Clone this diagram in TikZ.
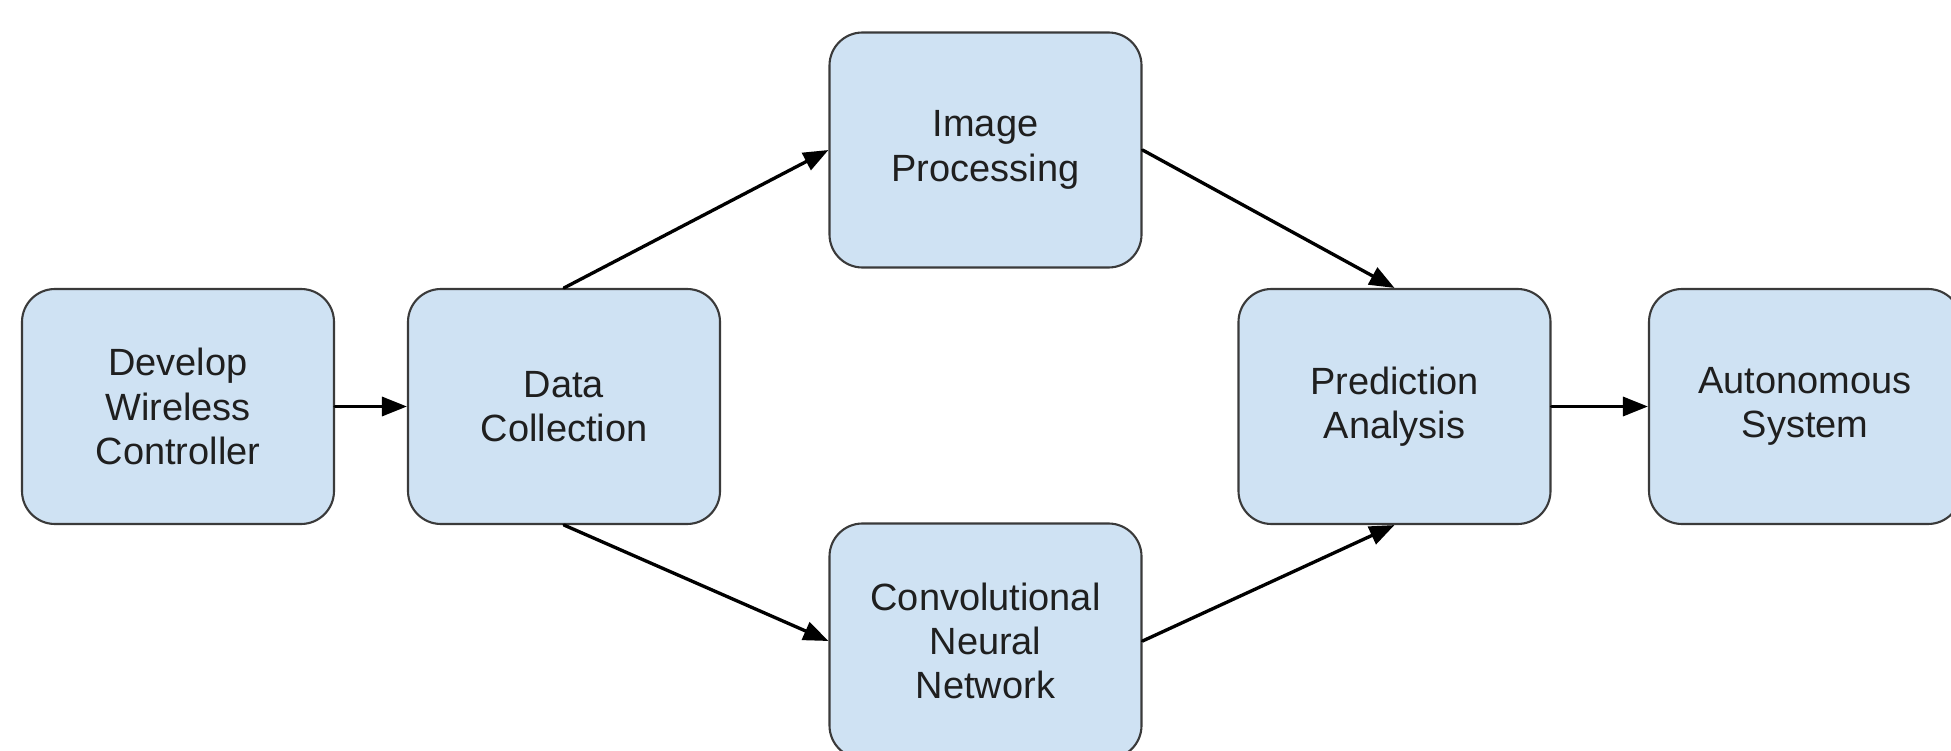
\documentclass[tikz,border=0pt]{standalone}
\usepackage{fontspec}
\setmainfont{Liberation Sans}
\usetikzlibrary{arrows.meta}
\definecolor{boxblue}{HTML}{CFE2F3}
\definecolor{boxline}{HTML}{3A3A3A}
\begin{document}
\begin{tikzpicture}[font=\fontsize{21.6}{25.2}\selectfont, line join=round, line cap=round, >={Triangle[length=0.5cm,width=0.38cm]},
block/.style={draw=boxline, line width=1.2pt, fill=boxblue, rounded corners=0.66cm, minimum width=6.24cm, minimum height=4.7cm, align=center, text=black!88, inner sep=0pt},
link/.style={->, line width=1.9pt}]
\def\xmax{39.02} \def\ymax{15}
\def\ymid{6.87}
\useasboundingbox (0,0) rectangle (\xmax,\ymax);
\clip (0,0) rectangle (\xmax,\ymax);
\node[block] (dev) at (3.56,\ymid) {Develop\\Wireless\\Controller};
\node[block] (data) at (11.28,\ymid) {Data\\Collection};
\node[block] (img) at (19.71,12.0) {Image\\Processing};
\node[block] (cnn) at (19.71,2.18) {Convolutional\\Neural\\Network};
\node[block] (pred) at (27.89,\ymid) {Prediction\\Analysis};
\node[block] (auto) at (36.1,\ymid) {Autonomous\\System};
\draw[link] (dev)--(data);
\draw[link] (data.north)--(img.west);
\draw[link] (data.south)--(cnn.west);
\draw[link] (img.east)--(pred.north);
\draw[link] (cnn.east)--(pred.south);
\draw[link] (pred)--(auto);
\end{tikzpicture}
\end{document}
